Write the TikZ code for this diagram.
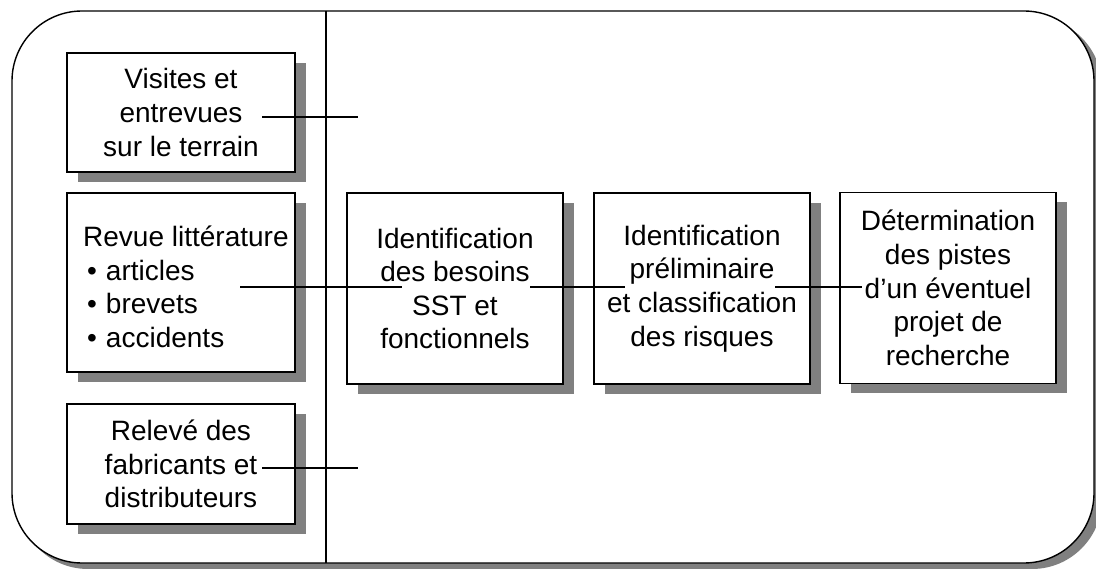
\documentclass[tikz,border=0pt]{standalone}
\usepackage{fontspec}
\setmainfont{Liberation Sans}
\usetikzlibrary{shadows}
\begin{document}
\begin{tikzpicture}[x=1pt,y=-1pt,
  every node/.style={font=\fontsize{28}{33.6}\selectfont},
  box/.style={draw, line width=1.4pt, fill=white, align=center, inner sep=0pt,
    drop shadow={shadow xshift=11pt, shadow yshift=-10pt, fill=black!50, opacity=1}},
  leftbox/.style={box, minimum width=228pt},
  stepbox/.style={box, minimum width=216pt, minimum height=191pt},
  link/.style={line width=1.4pt}
]
\useasboundingbox (0,0) rectangle (1096,569);
% outer frame with shadow
\fill[black!50, rounded corners=70pt] (18,17) rectangle (1102,569);
\draw[line width=1.4pt, fill=white, rounded corners=70pt] (12,11) rectangle (1094,563);
\coordinate (dtop) at (326,11);
\coordinate (dbot) at (326,563);
\draw[link] (dtop) -- (dbot);

% left column
\node[leftbox, minimum height=119pt] (vis) at (181,112.5) {Visites et\\entrevues\\sur le terrain};
\node[leftbox, minimum height=179pt] (rev) at (181,282.5) {};
\node[align=left, anchor=west, inner sep=0pt] (revtxt) at (83,287)
  {Revue littérature\\\hspace*{4pt}•\hspace{9pt}articles\\\hspace*{4pt}•\hspace{9pt}brevets\\\hspace*{4pt}•\hspace{9pt}accidents};
\node[leftbox, minimum height=120pt] (rel) at (181,464) {Relevé des\\fabricants et\\distributeurs};

% process boxes
\node[stepbox] (besoins) at (455,288.5) {Identification\\des besoins\\SST et\\fonctionnels};
\node[stepbox] (risques) at (702,288.5) {Identification\\préliminaire\\et classification\\des risques};
\node[stepbox] (piste) at (948,288) {Détermination\\des pistes\\d’un éventuel\\projet de\\recherche};

% connectors
\coordinate (v1) at (262,117);
\coordinate (v2) at (358,117);
\coordinate (r1) at (240,287);
\coordinate (r2) at (402,287);
\coordinate (b1) at (530,287);
\coordinate (b2) at (625,287);
\coordinate (p1) at (775,287);
\coordinate (p2) at (862,287);
\coordinate (f1) at (262,468);
\coordinate (f2) at (358,468);
\draw[link] (v1) -- (v2);
\draw[link] (r1) -- (r2);
\draw[link] (b1) -- (b2);
\draw[link] (p1) -- (p2);
\draw[link] (f1) -- (f2);
\end{tikzpicture}
\end{document}
